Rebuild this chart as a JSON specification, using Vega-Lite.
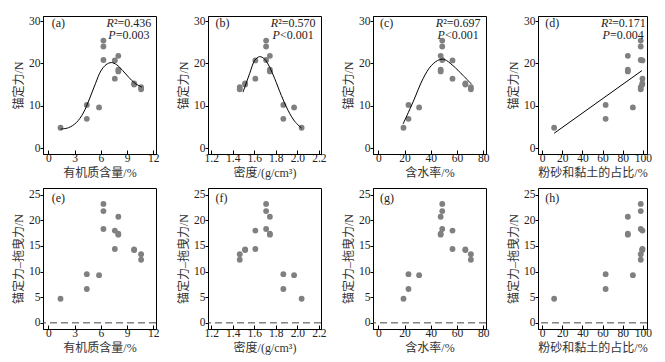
{
  "$schema": "https://vega.github.io/schema/vega-lite/v6.json",
  "padding": {"left": 12, "top": 14, "right": 4, "bottom": 4},
  "background": "white",
  "datasets": {
    "samples": [
      {"om": 1.4, "bd": 2.04, "wc": 19.2, "sc": 12, "f": 4.8, "fd": 4.7},
      {"om": 4.4, "bd": 1.87, "wc": 23.0, "sc": 63, "f": 10.2, "fd": 9.5},
      {"om": 4.4, "bd": 1.87, "wc": 23.0, "sc": 63, "f": 6.9, "fd": 6.6},
      {"om": 5.8, "bd": 1.97, "wc": 31.1, "sc": 90, "f": 9.6, "fd": 9.3},
      {"om": 6.3, "bd": 1.71, "wc": 48.7, "sc": 97.8, "f": 25.4, "fd": 23.2},
      {"om": 6.3, "bd": 1.71, "wc": 48.7, "sc": 97.8, "f": 24.0, "fd": 21.8},
      {"om": 6.3, "bd": 1.71, "wc": 48.7, "sc": 97.8, "f": 20.8, "fd": 18.3},
      {"om": 7.6, "bd": 1.61, "wc": 56.5, "sc": 99.5, "f": 20.7, "fd": 18.0},
      {"om": 7.6, "bd": 1.61, "wc": 56.5, "sc": 99.5, "f": 16.4, "fd": 14.4},
      {"om": 8.0, "bd": 1.745, "wc": 47.5, "sc": 85, "f": 21.8, "fd": 20.7},
      {"om": 8.0, "bd": 1.745, "wc": 47.5, "sc": 85, "f": 18.5, "fd": 17.4},
      {"om": 8.0, "bd": 1.745, "wc": 47.5, "sc": 85, "f": 18.1, "fd": 17.2},
      {"om": 9.8, "bd": 1.515, "wc": 66.3, "sc": 99.3, "f": 15.3, "fd": 14.3},
      {"om": 9.8, "bd": 1.515, "wc": 66.3, "sc": 99.3, "f": 15.0, "fd": 14.2},
      {"om": 10.6, "bd": 1.465, "wc": 70.5, "sc": 97.8, "f": 14.4, "fd": 13.4},
      {"om": 10.6, "bd": 1.465, "wc": 70.5, "sc": 97.8, "f": 13.9, "fd": 12.3}
    ],
    "curves": [
      {"panel": "a", "x": 1.4, "y": 4.5}, {"panel": "a", "x": 2.3, "y": 4.8}, {"panel": "a", "x": 3.2, "y": 6.0},
      {"panel": "a", "x": 4.0, "y": 8.3}, {"panel": "a", "x": 4.7, "y": 11.6}, {"panel": "a", "x": 5.4, "y": 15.3},
      {"panel": "a", "x": 6.0, "y": 18.2}, {"panel": "a", "x": 6.6, "y": 19.7}, {"panel": "a", "x": 7.2, "y": 20.2},
      {"panel": "a", "x": 7.8, "y": 19.7}, {"panel": "a", "x": 8.5, "y": 18.3}, {"panel": "a", "x": 9.2, "y": 16.7},
      {"panel": "a", "x": 9.9, "y": 15.3}, {"panel": "a", "x": 10.7, "y": 14.4},
      {"panel": "b", "x": 1.495, "y": 13.2}, {"panel": "b", "x": 1.557, "y": 17.6}, {"panel": "b", "x": 1.604, "y": 20.7},
      {"panel": "b", "x": 1.65, "y": 21.6}, {"panel": "b", "x": 1.697, "y": 21.0}, {"panel": "b", "x": 1.743, "y": 19.1},
      {"panel": "b", "x": 1.79, "y": 16.4}, {"panel": "b", "x": 1.852, "y": 12.4}, {"panel": "b", "x": 1.914, "y": 8.9},
      {"panel": "b", "x": 1.976, "y": 6.3}, {"panel": "b", "x": 2.04, "y": 4.7},
      {"panel": "c", "x": 18.9, "y": 5.7}, {"panel": "c", "x": 26.5, "y": 10.9}, {"panel": "c", "x": 34.1, "y": 16.4},
      {"panel": "c", "x": 40.4, "y": 19.5}, {"panel": "c", "x": 46.7, "y": 20.9}, {"panel": "c", "x": 50.5, "y": 20.9},
      {"panel": "c", "x": 56.8, "y": 19.5}, {"panel": "c", "x": 64.4, "y": 17.2}, {"panel": "c", "x": 71.0, "y": 15.1},
      {"panel": "d", "x": 12, "y": 3.5}, {"panel": "d", "x": 99, "y": 18.3}
    ]
  },
  "config": {
    "font": "Liberation Serif, Noto Sans CJK SC",
    "view": {"stroke": "black", "strokeWidth": 1},
    "axis": {
      "grid": false, "domainColor": "black", "tickColor": "black", "domainWidth": 1,
      "labelFontSize": 11.5, "titleFontSize": 12, "titleFontWeight": "normal",
      "labelColor": "#222", "titleColor": "#333", "labelFont": "Liberation Serif, Noto Sans CJK SC",
      "titleFont": "Liberation Serif, Noto Sans CJK SC", "labelOverlap": false, "labelFlush": false
    },
    "axisX": {"tickSize": -4, "labelPadding": 2, "titlePadding": 4},
    "axisY": {"tickSize": 3, "labelPadding": 0, "titlePadding": 3},
    "text": {"font": "Liberation Serif, Noto Sans CJK SC", "fontSize": 12, "color": "#222"}
  },
  "columns": 4,
  "bounds": "flush",
  "spacing": {"row": 34, "column": 52},
  "concat": [
    {
      "width": 113, "height": 138,
      "layer": [
        {"data": {"name": "samples"}, "mark": {"type": "circle", "size": 34, "color": "#808080", "opacity": 1},
         "encoding": {
           "x": {"field": "om", "type": "quantitative", "scale": {"domain": [-0.6, 12.3], "nice": false, "zero": false}, "axis": {"values": [0, 3, 6, 9, 12], "title": "有机质含量/%"}},
           "y": {"field": "f", "type": "quantitative", "scale": {"domain": [-1.4, 31.2], "nice": false}, "axis": {"values": [0, 10, 20, 30], "title": "锚定力/N"}}}},
        {"data": {"name": "curves"}, "transform": [{"filter": "datum.panel === 'a'"}],
         "mark": {"type": "line", "interpolate": "catmull-rom", "color": "black", "strokeWidth": 1},
         "encoding": {"x": {"field": "x", "type": "quantitative", "axis": {"values": [0, 3, 6, 9, 12], "title": "有机质含量/%"}}, "y": {"field": "y", "type": "quantitative", "axis": {"values": [0, 10, 20, 30], "title": "锚定力/N"}}}},
        {"data": {"values": [{}]}, "mark": {"type": "text", "align": "left", "baseline": "middle"},
         "encoding": {"x": {"datum": 0.4, "axis": {"values": [0, 3, 6, 9, 12], "title": "有机质含量/%"}}, "y": {"datum": 29.6, "axis": {"values": [0, 10, 20, 30], "title": "锚定力/N"}}, "text": {"value": "(a)"}}},
        {"data": {"values": [{}]}, "mark": {"type": "text", "align": "left", "baseline": "middle", "fontStyle": "italic"},
         "encoding": {"x": {"datum": 6.65, "axis": {"values": [0, 3, 6, 9, 12], "title": "有机质含量/%"}}, "y": {"datum": 29.6, "axis": {"values": [0, 10, 20, 30], "title": "锚定力/N"}}, "text": {"value": "R"}}},
        {"data": {"values": [{}]}, "mark": {"type": "text", "align": "left", "baseline": "middle", "dx": 7.5},
         "encoding": {"x": {"datum": 6.65, "axis": {"values": [0, 3, 6, 9, 12], "title": "有机质含量/%"}}, "y": {"datum": 29.6, "axis": {"values": [0, 10, 20, 30], "title": "锚定力/N"}}, "text": {"value": "²=0.436"}}},
        {"data": {"values": [{}]}, "mark": {"type": "text", "align": "left", "baseline": "middle", "fontStyle": "italic"},
         "encoding": {"x": {"datum": 6.85, "axis": {"values": [0, 3, 6, 9, 12], "title": "有机质含量/%"}}, "y": {"datum": 26.6, "axis": {"values": [0, 10, 20, 30], "title": "锚定力/N"}}, "text": {"value": "P"}}},
        {"data": {"values": [{}]}, "mark": {"type": "text", "align": "left", "baseline": "middle", "dx": 7.5},
         "encoding": {"x": {"datum": 6.85, "axis": {"values": [0, 3, 6, 9, 12], "title": "有机质含量/%"}}, "y": {"datum": 26.6, "axis": {"values": [0, 10, 20, 30], "title": "锚定力/N"}}, "text": {"value": "=0.003"}}}
      ]
    },
    {
      "width": 113, "height": 138,
      "layer": [
        {"data": {"name": "samples"}, "mark": {"type": "circle", "size": 34, "color": "#808080", "opacity": 1},
         "encoding": {
           "x": {"field": "bd", "type": "quantitative", "scale": {"domain": [1.17, 2.22], "nice": false, "zero": false}, "axis": {"values": [1.2, 1.4, 1.6, 1.8, 2.0, 2.2], "format": ".1f", "title": "密度/(g/cm³)"}},
           "y": {"field": "f", "type": "quantitative", "scale": {"domain": [-1.4, 31.2], "nice": false}, "axis": {"values": [0, 10, 20, 30], "title": "锚定力/N"}}}},
        {"data": {"name": "curves"}, "transform": [{"filter": "datum.panel === 'b'"}],
         "mark": {"type": "line", "interpolate": "catmull-rom", "color": "black", "strokeWidth": 1},
         "encoding": {"x": {"field": "x", "type": "quantitative", "axis": {"values": [1.2, 1.4, 1.6, 1.8, 2.0, 2.2], "format": ".1f", "title": "密度/(g/cm³)"}}, "y": {"field": "y", "type": "quantitative", "axis": {"values": [0, 10, 20, 30], "title": "锚定力/N"}}}},
        {"data": {"values": [{}]}, "mark": {"type": "text", "align": "left", "baseline": "middle"},
         "encoding": {"x": {"datum": 1.24, "axis": {"values": [1.2, 1.4, 1.6, 1.8, 2.0, 2.2], "format": ".1f", "title": "密度/(g/cm³)"}}, "y": {"datum": 29.6, "axis": {"values": [0, 10, 20, 30], "title": "锚定力/N"}}, "text": {"value": "(b)"}}},
        {"data": {"values": [{}]}, "mark": {"type": "text", "align": "left", "baseline": "middle", "fontStyle": "italic"},
         "encoding": {"x": {"datum": 1.753, "axis": {"values": [1.2, 1.4, 1.6, 1.8, 2.0, 2.2], "format": ".1f", "title": "密度/(g/cm³)"}}, "y": {"datum": 29.6, "axis": {"values": [0, 10, 20, 30], "title": "锚定力/N"}}, "text": {"value": "R"}}},
        {"data": {"values": [{}]}, "mark": {"type": "text", "align": "left", "baseline": "middle", "dx": 7.5},
         "encoding": {"x": {"datum": 1.753, "axis": {"values": [1.2, 1.4, 1.6, 1.8, 2.0, 2.2], "format": ".1f", "title": "密度/(g/cm³)"}}, "y": {"datum": 29.6, "axis": {"values": [0, 10, 20, 30], "title": "锚定力/N"}}, "text": {"value": "²=0.570"}}},
        {"data": {"values": [{}]}, "mark": {"type": "text", "align": "left", "baseline": "middle", "fontStyle": "italic"},
         "encoding": {"x": {"datum": 1.77, "axis": {"values": [1.2, 1.4, 1.6, 1.8, 2.0, 2.2], "format": ".1f", "title": "密度/(g/cm³)"}}, "y": {"datum": 26.6, "axis": {"values": [0, 10, 20, 30], "title": "锚定力/N"}}, "text": {"value": "P"}}},
        {"data": {"values": [{}]}, "mark": {"type": "text", "align": "left", "baseline": "middle", "dx": 7.5},
         "encoding": {"x": {"datum": 1.77, "axis": {"values": [1.2, 1.4, 1.6, 1.8, 2.0, 2.2], "format": ".1f", "title": "密度/(g/cm³)"}}, "y": {"datum": 26.6, "axis": {"values": [0, 10, 20, 30], "title": "锚定力/N"}}, "text": {"value": "<0.001"}}}
      ]
    },
    {
      "width": 113, "height": 138,
      "layer": [
        {"data": {"name": "samples"}, "mark": {"type": "circle", "size": 34, "color": "#808080", "opacity": 1},
         "encoding": {
           "x": {"field": "wc", "type": "quantitative", "scale": {"domain": [-4, 82], "nice": false, "zero": false}, "axis": {"values": [0, 20, 40, 60, 80], "title": "含水率/%"}},
           "y": {"field": "f", "type": "quantitative", "scale": {"domain": [-1.4, 31.2], "nice": false}, "axis": {"values": [0, 10, 20, 30], "title": "锚定力/N"}}}},
        {"data": {"name": "curves"}, "transform": [{"filter": "datum.panel === 'c'"}],
         "mark": {"type": "line", "interpolate": "catmull-rom", "color": "black", "strokeWidth": 1},
         "encoding": {"x": {"field": "x", "type": "quantitative", "axis": {"values": [0, 20, 40, 60, 80], "title": "含水率/%"}}, "y": {"field": "y", "type": "quantitative", "axis": {"values": [0, 10, 20, 30], "title": "锚定力/N"}}}},
        {"data": {"values": [{}]}, "mark": {"type": "text", "align": "left", "baseline": "middle"},
         "encoding": {"x": {"datum": 1.3, "axis": {"values": [0, 20, 40, 60, 80], "title": "含水率/%"}}, "y": {"datum": 29.6, "axis": {"values": [0, 10, 20, 30], "title": "锚定力/N"}}, "text": {"value": "(c)"}}},
        {"data": {"values": [{}]}, "mark": {"type": "text", "align": "left", "baseline": "middle", "fontStyle": "italic"},
         "encoding": {"x": {"datum": 43.7, "axis": {"values": [0, 20, 40, 60, 80], "title": "含水率/%"}}, "y": {"datum": 29.6, "axis": {"values": [0, 10, 20, 30], "title": "锚定力/N"}}, "text": {"value": "R"}}},
        {"data": {"values": [{}]}, "mark": {"type": "text", "align": "left", "baseline": "middle", "dx": 7.5},
         "encoding": {"x": {"datum": 43.7, "axis": {"values": [0, 20, 40, 60, 80], "title": "含水率/%"}}, "y": {"datum": 29.6, "axis": {"values": [0, 10, 20, 30], "title": "锚定力/N"}}, "text": {"value": "²=0.697"}}},
        {"data": {"values": [{}]}, "mark": {"type": "text", "align": "left", "baseline": "middle", "fontStyle": "italic"},
         "encoding": {"x": {"datum": 45.0, "axis": {"values": [0, 20, 40, 60, 80], "title": "含水率/%"}}, "y": {"datum": 26.6, "axis": {"values": [0, 10, 20, 30], "title": "锚定力/N"}}, "text": {"value": "P"}}},
        {"data": {"values": [{}]}, "mark": {"type": "text", "align": "left", "baseline": "middle", "dx": 7.5},
         "encoding": {"x": {"datum": 45.0, "axis": {"values": [0, 20, 40, 60, 80], "title": "含水率/%"}}, "y": {"datum": 26.6, "axis": {"values": [0, 10, 20, 30], "title": "锚定力/N"}}, "text": {"value": "<0.001"}}}
      ]
    },
    {
      "width": 109, "height": 138,
      "layer": [
        {"data": {"name": "samples"}, "mark": {"type": "circle", "size": 34, "color": "#808080", "opacity": 1},
         "encoding": {
           "x": {"field": "sc", "type": "quantitative", "scale": {"domain": [-4, 104], "nice": false, "zero": false}, "axis": {"values": [0, 20, 40, 60, 80, 100], "title": "粉砂和黏土的占比/%"}},
           "y": {"field": "f", "type": "quantitative", "scale": {"domain": [-1.4, 31.2], "nice": false}, "axis": {"values": [0, 10, 20, 30], "title": "锚定力/N"}}}},
        {"data": {"name": "curves"}, "transform": [{"filter": "datum.panel === 'd'"}],
         "mark": {"type": "line", "color": "black", "strokeWidth": 1},
         "encoding": {"x": {"field": "x", "type": "quantitative", "axis": {"values": [0, 20, 40, 60, 80, 100], "title": "粉砂和黏土的占比/%"}}, "y": {"field": "y", "type": "quantitative", "axis": {"values": [0, 10, 20, 30], "title": "锚定力/N"}}}},
        {"data": {"values": [{}]}, "mark": {"type": "text", "align": "left", "baseline": "middle"},
         "encoding": {"x": {"datum": 3.3, "axis": {"values": [0, 20, 40, 60, 80, 100], "title": "粉砂和黏土的占比/%"}}, "y": {"datum": 29.6, "axis": {"values": [0, 10, 20, 30], "title": "锚定力/N"}}, "text": {"value": "(d)"}}},
        {"data": {"values": [{}]}, "mark": {"type": "text", "align": "left", "baseline": "middle", "fontStyle": "italic"},
         "encoding": {"x": {"datum": 58.4, "axis": {"values": [0, 20, 40, 60, 80, 100], "title": "粉砂和黏土的占比/%"}}, "y": {"datum": 29.6, "axis": {"values": [0, 10, 20, 30], "title": "锚定力/N"}}, "text": {"value": "R"}}},
        {"data": {"values": [{}]}, "mark": {"type": "text", "align": "left", "baseline": "middle", "dx": 7.5},
         "encoding": {"x": {"datum": 58.4, "axis": {"values": [0, 20, 40, 60, 80, 100], "title": "粉砂和黏土的占比/%"}}, "y": {"datum": 29.6, "axis": {"values": [0, 10, 20, 30], "title": "锚定力/N"}}, "text": {"value": "²=0.171"}}},
        {"data": {"values": [{}]}, "mark": {"type": "text", "align": "left", "baseline": "middle", "fontStyle": "italic"},
         "encoding": {"x": {"datum": 60.0, "axis": {"values": [0, 20, 40, 60, 80, 100], "title": "粉砂和黏土的占比/%"}}, "y": {"datum": 26.6, "axis": {"values": [0, 10, 20, 30], "title": "锚定力/N"}}, "text": {"value": "P"}}},
        {"data": {"values": [{}]}, "mark": {"type": "text", "align": "left", "baseline": "middle", "dx": 7.5},
         "encoding": {"x": {"datum": 60.0, "axis": {"values": [0, 20, 40, 60, 80, 100], "title": "粉砂和黏土的占比/%"}}, "y": {"datum": 26.6, "axis": {"values": [0, 10, 20, 30], "title": "锚定力/N"}}, "text": {"value": "=0.004"}}}
      ]
    },
    {
      "width": 113, "height": 141,
      "layer": [
        {"data": {"name": "samples"}, "mark": {"type": "circle", "size": 34, "color": "#808080", "opacity": 1},
         "encoding": {
           "x": {"field": "om", "type": "quantitative", "scale": {"domain": [-0.6, 12.3], "nice": false, "zero": false}, "axis": {"values": [0, 3, 6, 9, 12], "title": "有机质含量/%"}},
           "y": {"field": "fd", "type": "quantitative", "scale": {"domain": [-1.2, 26.3], "nice": false}, "axis": {"values": [0, 5, 10, 15, 20, 25], "title": "锚定力–拖曳力/N"}}}},
        {"data": {"values": [{}]}, "mark": {"type": "rule", "color": "#444", "strokeWidth": 1, "strokeDash": [7, 4]},
         "encoding": {"y": {"datum": 0, "axis": {"values": [0, 5, 10, 15, 20, 25], "title": "锚定力–拖曳力/N"}}}},
        {"data": {"values": [{}]}, "mark": {"type": "text", "align": "left", "baseline": "middle"},
         "encoding": {"x": {"datum": 0.4, "axis": {"values": [0, 3, 6, 9, 12], "title": "有机质含量/%"}}, "y": {"datum": 24.3, "axis": {"values": [0, 5, 10, 15, 20, 25], "title": "锚定力–拖曳力/N"}}, "text": {"value": "(e)"}}}
      ]
    },
    {
      "width": 113, "height": 141,
      "layer": [
        {"data": {"name": "samples"}, "mark": {"type": "circle", "size": 34, "color": "#808080", "opacity": 1},
         "encoding": {
           "x": {"field": "bd", "type": "quantitative", "scale": {"domain": [1.17, 2.22], "nice": false, "zero": false}, "axis": {"values": [1.2, 1.4, 1.6, 1.8, 2.0, 2.2], "format": ".1f", "title": "密度/(g/cm³)"}},
           "y": {"field": "fd", "type": "quantitative", "scale": {"domain": [-1.2, 26.3], "nice": false}, "axis": {"values": [0, 5, 10, 15, 20, 25], "title": "锚定力–拖曳力/N"}}}},
        {"data": {"values": [{}]}, "mark": {"type": "rule", "color": "#444", "strokeWidth": 1, "strokeDash": [7, 4]},
         "encoding": {"y": {"datum": 0, "axis": {"values": [0, 5, 10, 15, 20, 25], "title": "锚定力–拖曳力/N"}}}},
        {"data": {"values": [{}]}, "mark": {"type": "text", "align": "left", "baseline": "middle"},
         "encoding": {"x": {"datum": 1.24, "axis": {"values": [1.2, 1.4, 1.6, 1.8, 2.0, 2.2], "format": ".1f", "title": "密度/(g/cm³)"}}, "y": {"datum": 24.3, "axis": {"values": [0, 5, 10, 15, 20, 25], "title": "锚定力–拖曳力/N"}}, "text": {"value": "(f)"}}}
      ]
    },
    {
      "width": 113, "height": 141,
      "layer": [
        {"data": {"name": "samples"}, "mark": {"type": "circle", "size": 34, "color": "#808080", "opacity": 1},
         "encoding": {
           "x": {"field": "wc", "type": "quantitative", "scale": {"domain": [-4, 82], "nice": false, "zero": false}, "axis": {"values": [0, 20, 40, 60, 80], "title": "含水率/%"}},
           "y": {"field": "fd", "type": "quantitative", "scale": {"domain": [-1.2, 26.3], "nice": false}, "axis": {"values": [0, 5, 10, 15, 20, 25], "title": "锚定力–拖曳力/N"}}}},
        {"data": {"values": [{}]}, "mark": {"type": "rule", "color": "#444", "strokeWidth": 1, "strokeDash": [7, 4]},
         "encoding": {"y": {"datum": 0, "axis": {"values": [0, 5, 10, 15, 20, 25], "title": "锚定力–拖曳力/N"}}}},
        {"data": {"values": [{}]}, "mark": {"type": "text", "align": "left", "baseline": "middle"},
         "encoding": {"x": {"datum": 1.3, "axis": {"values": [0, 20, 40, 60, 80], "title": "含水率/%"}}, "y": {"datum": 24.3, "axis": {"values": [0, 5, 10, 15, 20, 25], "title": "锚定力–拖曳力/N"}}, "text": {"value": "(g)"}}}
      ]
    },
    {
      "width": 109, "height": 141,
      "layer": [
        {"data": {"name": "samples"}, "mark": {"type": "circle", "size": 34, "color": "#808080", "opacity": 1},
         "encoding": {
           "x": {"field": "sc", "type": "quantitative", "scale": {"domain": [-4, 104], "nice": false, "zero": false}, "axis": {"values": [0, 20, 40, 60, 80, 100], "title": "粉砂和黏土的占比/%"}},
           "y": {"field": "fd", "type": "quantitative", "scale": {"domain": [-1.2, 26.3], "nice": false}, "axis": {"values": [0, 5, 10, 15, 20, 25], "title": "锚定力–拖曳力/N"}}}},
        {"data": {"values": [{}]}, "mark": {"type": "rule", "color": "#444", "strokeWidth": 1, "strokeDash": [7, 4]},
         "encoding": {"y": {"datum": 0, "axis": {"values": [0, 5, 10, 15, 20, 25], "title": "锚定力–拖曳力/N"}}}},
        {"data": {"values": [{}]}, "mark": {"type": "text", "align": "left", "baseline": "middle"},
         "encoding": {"x": {"datum": 3.3, "axis": {"values": [0, 20, 40, 60, 80, 100], "title": "粉砂和黏土的占比/%"}}, "y": {"datum": 24.3, "axis": {"values": [0, 5, 10, 15, 20, 25], "title": "锚定力–拖曳力/N"}}, "text": {"value": "(h)"}}}
      ]
    }
  ]
}
